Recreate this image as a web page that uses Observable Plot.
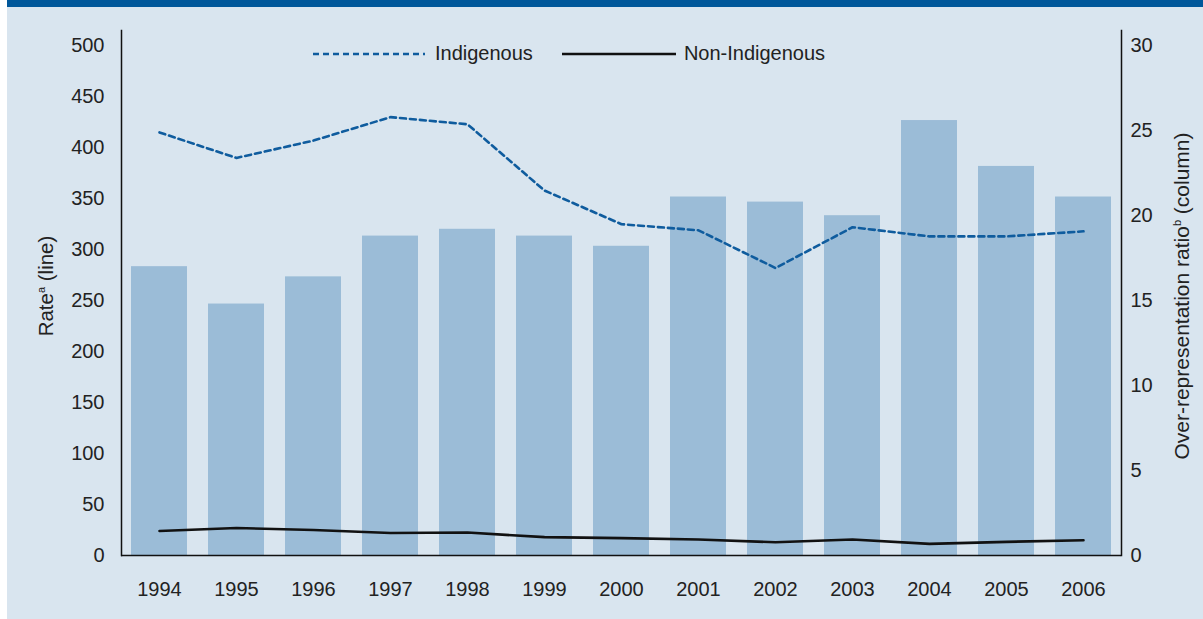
<!DOCTYPE html>
<html>
<head>
<meta charset="utf-8">
<script src="https://cdn.jsdelivr.net/npm/d3@7"></script>
<script src="https://cdn.jsdelivr.net/npm/@observablehq/plot@0.6"></script>
<style>
  body { margin: 0; background: #ffffff; }
  #page { position: relative; width: 1203px; height: 619px; overflow: hidden; font-family: "Liberation Sans", Arial, sans-serif; color: #222; }
  #panel { position: absolute; left: 7px; top: 0; width: 1196px; height: 619px; background: #d9e5ef; }
  #band { position: absolute; left: 7px; top: 0; width: 1196px; height: 7px; background: #00579a; }
  #chart { position: absolute; left: 0; top: 0; }
  .ylab { position: absolute; white-space: nowrap; transform: translate(-50%, -50%) rotate(-90deg); color: #222; }
  .ylab sup { font-size: 11px; vertical-align: 8px; line-height: 0; }
  #legend { position: absolute; top: 42px; left: 312px; font-size: 20px; display: flex; align-items: center; white-space: nowrap; }
  #legend svg { display: block; }
</style>
</head>
<body>
<div id="page">
  <div id="panel"></div>
  <div id="band"></div>
  <div id="chart"></div>
  <div class="ylab" style="left:46px; top:286px; font-size:20.5px;">Rate<sup>a</sup> (line)</div>
  <div class="ylab" style="left:1182px; top:296px; font-size:21px;">Over-representation ratio<sup>b</sup> (column)</div>
  <div id="legend"></div>
</div>
<script>
const years = [1994, 1995, 1996, 1997, 1998, 1999, 2000, 2001, 2002, 2003, 2004, 2005, 2006];
const indigenousRate = [415, 390, 407, 430, 423, 358, 325, 319, 282, 322, 313, 313, 318];
const nonIndigenousRate = [24, 27, 25, 22, 22.5, 18, 17, 15.7, 13, 15.7, 11.4, 13.4, 15];
const overRepRatio = [17.0, 14.8, 16.4, 18.8, 19.2, 18.8, 18.2, 21.1, 20.8, 20.0, 25.6, 22.9, 21.1];
const leftTicks = [0, 50, 100, 150, 200, 250, 300, 350, 400, 450, 500];
const rightTicks = [0, 5, 10, 15, 20, 25, 30];
const seriesNames = ["Indigenous", "Non-Indigenous"];

const k = 500 / 30; // ratio -> rate scale factor
const rows = years.map((y, i) => ({
  year: String(y),
  ind: indigenousRate[i],
  non: nonIndigenousRate[i],
  ratio: overRepRatio[i]
}));

const indColor = "#0f5c9e";
const txt = "#222";

const chart = Plot.plot({
  width: 1203,
  height: 619,
  marginLeft: 121,
  marginRight: 82,
  marginTop: 30,
  marginBottom: 64,
  style: { background: "transparent", fontFamily: "'Liberation Sans', Arial, sans-serif", fontSize: "20px", color: txt },
  x: { type: "band", domain: years.map(String), paddingInner: 0.273, paddingOuter: 0.117 },
  y: { domain: [0, 515] },
  marks: [
    Plot.barY(rows, { x: "year", y: d => d.ratio * k, fill: "#9bbcd7" }),
    Plot.lineY(rows, { x: "year", y: "ind", stroke: indColor, strokeWidth: 2.6, strokeDasharray: "6,4" }),
    Plot.lineY(rows, { x: "year", y: "non", stroke: "#111", strokeWidth: 2.6 }),
    Plot.frame({ anchor: "left", stroke: "#111", strokeWidth: 1.5 }),
    Plot.frame({ anchor: "right", stroke: "#111", strokeWidth: 1.5 }),
    Plot.ruleY([0], { stroke: "#111", strokeWidth: 1.5 }),
    Plot.axisY(leftTicks, { anchor: "left", tickSize: 0, tickPadding: 17, label: null, fontSize: 20, fill: txt }),
    Plot.axisY(rightTicks.map(v => v * k), { anchor: "right", tickSize: 0, tickPadding: 9, label: null, tickFormat: d => String(Math.round(d / k)), fontSize: 20, fill: txt }),
    Plot.axisX({ tickSize: 0, tickPadding: 26, label: null, fontSize: 20, fill: txt })
  ]
});
document.getElementById("chart").appendChild(chart);

// legend
const legend = document.getElementById("legend");
legend.innerHTML = `
  <svg width="114" height="10"><line x1="1" y1="5" x2="113" y2="5" stroke="${indColor}" stroke-width="2.6" stroke-dasharray="6,4"/></svg>
  <span style="margin-left:9px">${seriesNames[0]}</span>
  <svg width="114" height="10" style="margin-left:29px"><line x1="0" y1="5" x2="114" y2="5" stroke="#111" stroke-width="2.6"/></svg>
  <span style="margin-left:8px">${seriesNames[1]}</span>`;
</script>
</body>
</html>
